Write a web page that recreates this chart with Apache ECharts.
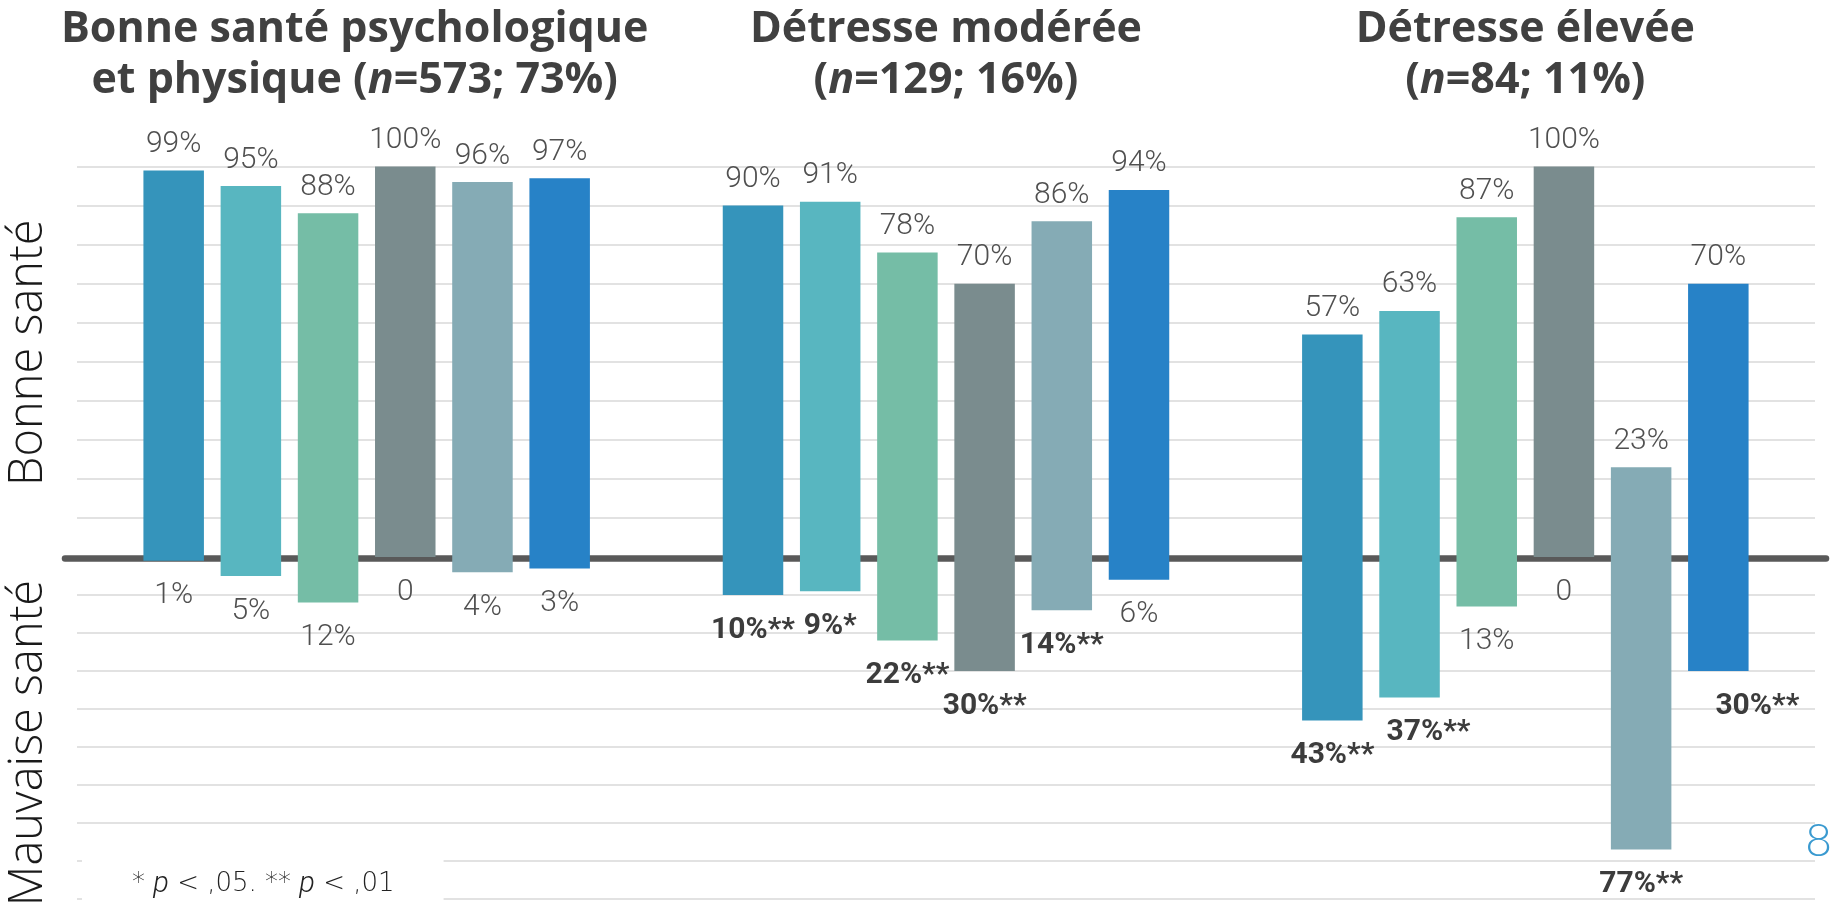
<!DOCTYPE html>
<html>
<head>
<meta charset="utf-8">
<script src="https://cdn.jsdelivr.net/npm/echarts@6/dist/echarts.min.js"></script>
<style>
html,body{margin:0;padding:0;background:#ffffff;}
#chart{width:1832px;height:908px;}
</style>
</head>
<body>
<div id="chart"></div>
<script>
// ---- data ----
const groupTitles = [
  'Bonne santé psychologique\net physique (n=573; 73%)',
  'Détresse modérée\n(n=129; 16%)',
  'Détresse élevée\n(n=84; 11%)'
];
const indicators = ['Indicateur 1', 'Indicateur 2', 'Indicateur 3', 'Indicateur 4', 'Indicateur 5', 'Indicateur 6'];
// "Bonne santé" (%)
const goodG1 = [99, 95, 88, 100, 96, 97];
const goodG2 = [90, 91, 78, 70, 86, 94];
const goodG3 = [57, 63, 87, 100, 23, 70];
// "Mauvaise santé" (%)
const poorG1 = [1, 5, 12, 0, 4, 3];
const poorG2 = [10, 9, 22, 30, 14, 6];
const poorG3 = [43, 37, 13, 0, 77, 30];
// significance markers
const sigG1 = ['', '', '', '', '', ''];
const sigG2 = ['**', '*', '**', '**', '**', ''];
const sigG3 = ['**', '**', '', '', '**', '**'];
const footnote = '* {i|p} < ,05. ** {i|p} < ,01';
const pageNumber = '8';

// ---- styles ----
const colors = ['#3594BB', '#58B6C0', '#75BDA6', '#7A8C8E', '#85ABB5', '#2782C7'];
const labelShiftX = { '2,1': 19, '2,5': 39 };
const LABEL_FONT = 'Roboto, "Open Sans", sans-serif';
const TITLE_FONT = '"Open Sans", "Noto Sans", sans-serif';
const NOTE_FONT = '"DejaVu Sans", sans-serif';
const gridLeft = 77, gridRight = 17;

const good = [goodG1, goodG2, goodG3];
const poor = [poorG1, poorG2, poorG3];
const sig = [sigG1, sigG2, sigG3];

const series = [];
for (let i = 0; i < indicators.length; i++) {
  series.push({
    name: indicators[i],
    type: 'bar',
    xAxisIndex: 0,
    yAxisIndex: 0,
    barWidth: 60.5,
    barGap: '27.6%',
    itemStyle: { color: colors[i] },
    label: {
      show: true,
      position: 'top',
      distance: 11,
      formatter: p => p.value + '%',
      fontFamily: LABEL_FONT,
      fontWeight: 300,
      fontSize: 30,
      color: '#505050'
    },
    data: good.map(g => g[i])
  });
}
for (let i = 0; i < indicators.length; i++) {
  series.push({
    name: indicators[i],
    type: 'bar',
    xAxisIndex: 1,
    yAxisIndex: 1,
    barWidth: 60.5,
    barGap: '27.6%',
    itemStyle: { color: colors[i] },
    label: {
      show: true,
      position: 'bottom',
      distance: 20,
      fontFamily: LABEL_FONT,
      fontSize: 30
    },
    data: poor.map((g, gi) => {
      const v = g[i];
      const s = sig[gi][i];
      const txt = v === 0 ? '0' : v + '%' + s;
      return {
        value: v,
        label: {
          formatter: txt,
          fontWeight: s ? 'bold' : 300,
          color: s ? '#3c3c3c' : '#505050',
          offset: [labelShiftX[gi + ',' + i] || 0, 0]
        }
      };
    })
  });
}

const splitLineStyle = { show: true, lineStyle: { color: '#D9D9D9', width: 1.5 } };

const option = {
  animation: false,
  backgroundColor: '#ffffff',
  title: [
    {
      text: footnote,
      left: 82,
      top: 856,
      backgroundColor: '#ffffff',
      padding: [14, 49, 14, 50],
      textStyle: {
        fontFamily: NOTE_FONT, fontWeight: 200, fontSize: 26, color: '#222222',
        rich: { i: { fontFamily: LABEL_FONT, fontWeight: 300, fontSize: 29, color: '#222222', fontStyle: 'italic' } }
      }
    },
    {
      text: pageNumber,
      right: 0,
      top: 818,
      padding: 0,
      textStyle: { fontFamily: 'Lato, sans-serif', fontWeight: 300, fontSize: 46, color: '#3A9AD0' }
    }
  ],
  grid: [
    { left: gridLeft, right: gridRight, top: 166.5, height: 390.5, containLabel: false, outerBoundsMode: 'none' },
    { left: gridLeft, right: gridRight, top: 557, height: 342, containLabel: false, outerBoundsMode: 'none' },
    { left: 65, right: 6, top: 500, height: 58.3, containLabel: false, outerBoundsMode: 'none' }
  ],
  xAxis: [
    {
      type: 'category', gridIndex: 0, position: 'top',
      data: groupTitles.map((t, k) => k === 0 ? { value: t, textStyle: { padding: [0, 24, 0, 0] } } : t),
      axisLine: { show: false, onZero: false }, axisTick: { show: false }, splitLine: { show: false },
      axisLabel: {
        interval: 0, margin: 60,
        fontFamily: TITLE_FONT, fontWeight: 'bold', fontSize: 43, color: '#404040', lineHeight: 51,
        formatter: v => v.replace('(n=', '({i|n}='),
        rich: { i: { fontFamily: TITLE_FONT, fontWeight: 'bold', fontStyle: 'italic', fontSize: 43, color: '#404040', lineHeight: 51 } }
      }
    },
    {
      type: 'category', gridIndex: 1, data: groupTitles,
      axisLine: { show: false, onZero: false }, axisTick: { show: false }, axisLabel: { show: false }, splitLine: { show: false }
    },
    {
      type: 'category', gridIndex: 2, data: groupTitles, position: 'bottom',
      axisLine: { show: true, onZero: false, lineStyle: { color: '#595959', width: 6.5, cap: 'round' } },
      axisTick: { show: false }, axisLabel: { show: false }, splitLine: { show: false }
    }
  ],
  yAxis: [
    {
      type: 'value', gridIndex: 0, min: 0, max: 100, interval: 10,
      axisLine: { show: false }, axisTick: { show: false }, axisLabel: { show: false },
      splitLine: splitLineStyle,
      name: 'Bonne santé', nameLocation: 'middle', nameRotate: 90, nameGap: 25,
      nameTextStyle: { fontFamily: '"Open Sans", sans-serif', fontWeight: 300, fontSize: 47, color: '#1a1a1a', padding: [0, 0, 0, 18] }
    },
    {
      type: 'value', gridIndex: 1, min: 0, max: 90, interval: 10, inverse: true,
      axisLine: { show: false }, axisTick: { show: false }, axisLabel: { show: false },
      splitLine: splitLineStyle,
      name: 'Mauvaise santé', nameLocation: 'middle', nameRotate: 90, nameGap: 25,
      nameTextStyle: { fontFamily: '"Open Sans", sans-serif', fontWeight: 300, fontSize: 47, color: '#1a1a1a', padding: [0, 30, 0, 0] }
    },
    { type: 'value', gridIndex: 2, show: false }
  ],
  series: series
};

const chart = echarts.init(document.getElementById('chart'), null, { renderer: 'canvas' });
chart.setOption(option);
</script>
</body>
</html>
